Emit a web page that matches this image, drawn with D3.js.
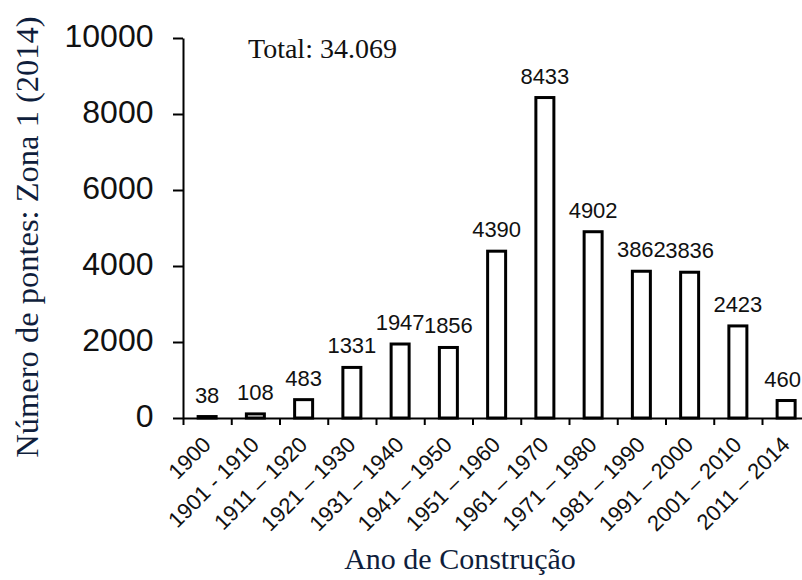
<!DOCTYPE html>
<html>
<head>
<meta charset="utf-8">
<script src="https://cdn.jsdelivr.net/npm/d3@7"></script>
<style>
  html, body { margin: 0; padding: 0; background: #fff; }
  svg { display: block; }
</style>
</head>
<body>
<svg id="chart" width="802" height="580"></svg>
<script>
const categories = ["1900", "1901 - 1910", "1911 – 1920", "1921 – 1930", "1931 – 1940",
  "1941 – 1950", "1951 – 1960", "1961 – 1970", "1971 – 1980", "1981 – 1990",
  "1991 – 2000", "2001 – 2010", "2011 – 2014"];
const values = [38, 108, 483, 1331, 1947, 1856, 4390, 8433, 4902, 3862, 3836, 2423, 460];
const yTicks = [0, 2000, 4000, 6000, 8000, 10000];
const totalLabel = "Total: 34.069";
const xTitle = "Ano de Construção";
const yTitle = "Número de pontes: Zona 1 (2014)";

const W = 802;
const svg = d3.select("#chart");
const x0 = 183, step = 48.25, y0 = 418, yTop = 38;
const x = d3.scaleBand().domain(categories).range([x0, x0 + step * categories.length]).paddingInner(0).paddingOuter(0);
const xb = d3.scaleLinear().domain([0, categories.length]).range([x0, x0 + step * categories.length]);
const y = d3.scaleLinear().domain([0, 10000]).range([y0, yTop]);
const barW = 18;
const titleColor = "#0f1e3c";

// bars
svg.append("g").selectAll("rect").data(values).join("rect")
  .attr("x", (d, i) => x(categories[i]) + (x.bandwidth() - barW) / 2)
  .attr("y", d => y(d))
  .attr("width", barW)
  .attr("height", d => y(0) - y(d))
  .attr("fill", "#fff")
  .attr("stroke", "#000")
  .attr("stroke-width", 3);

// value labels
svg.append("g").selectAll("text").data(values).join("text")
  .attr("y", d => y(d) - 14)
  .attr("text-anchor", "middle")
  .attr("font-family", "Liberation Sans, Arial, sans-serif")
  .attr("font-size", 22)
  .attr("fill", "#111")
  .text(d => d)
  .attr("x", function(d, i) {
    const c = x(categories[i]) + x.bandwidth() / 2;
    const w = this.getComputedTextLength();
    return Math.min(c, W - 1 - w / 2);
  });

// x axis
const gx = svg.append("g").attr("transform", `translate(0,${y0})`)
  .call(d3.axisBottom(xb).tickValues(d3.range(categories.length + 1)).tickFormat("").tickSizeInner(7).tickSizeOuter(0));
gx.select(".domain").attr("stroke", "#000").attr("stroke-width", 2);
gx.selectAll(".tick line").attr("stroke", "#000").attr("stroke-width", 2);

// x tick labels
svg.append("g").selectAll("text").data(categories).join("text")
  .attr("transform", d => `translate(${x(d) + x.bandwidth() / 2 + 5},${y0 + 28}) rotate(-45)`)
  .attr("text-anchor", "end")
  .attr("font-family", "Liberation Sans, Arial, sans-serif")
  .attr("font-size", 22)
  .attr("fill", "#111")
  .text(d => d);

// y axis
const gy = svg.append("g").attr("transform", `translate(${x0},0)`)
  .call(d3.axisLeft(y).tickValues(yTicks).tickSizeInner(10).tickSizeOuter(0).tickFormat(d3.format("d")));
gy.select(".domain").attr("stroke", "#000").attr("stroke-width", 2);
gy.selectAll(".tick line").attr("stroke", "#000").attr("stroke-width", 2);
gy.selectAll(".tick text")
  .attr("x", -29.5)
  .attr("dy", "0.28em")
  .attr("font-family", "Liberation Sans, Arial, sans-serif")
  .attr("font-size", 32)
  .attr("fill", "#111");

// total annotation
svg.append("text")
  .attr("x", 248).attr("y", 58)
  .attr("font-family", "Liberation Serif, Times New Roman, serif")
  .attr("font-size", 28)
  .attr("fill", "#111")
  .text(totalLabel);

// x title
svg.append("text")
  .attr("x", 460).attr("y", 569)
  .attr("text-anchor", "middle")
  .attr("font-family", "Liberation Serif, Times New Roman, serif")
  .attr("font-size", 30)
  .attr("fill", titleColor)
  .text(xTitle);

// y title
svg.append("text")
  .attr("transform", "translate(38,237) rotate(-90)")
  .attr("text-anchor", "middle")
  .attr("font-family", "Liberation Serif, Times New Roman, serif")
  .attr("font-size", 32.5)
  .attr("fill", titleColor)
  .text(yTitle);
</script>
</body>
</html>
